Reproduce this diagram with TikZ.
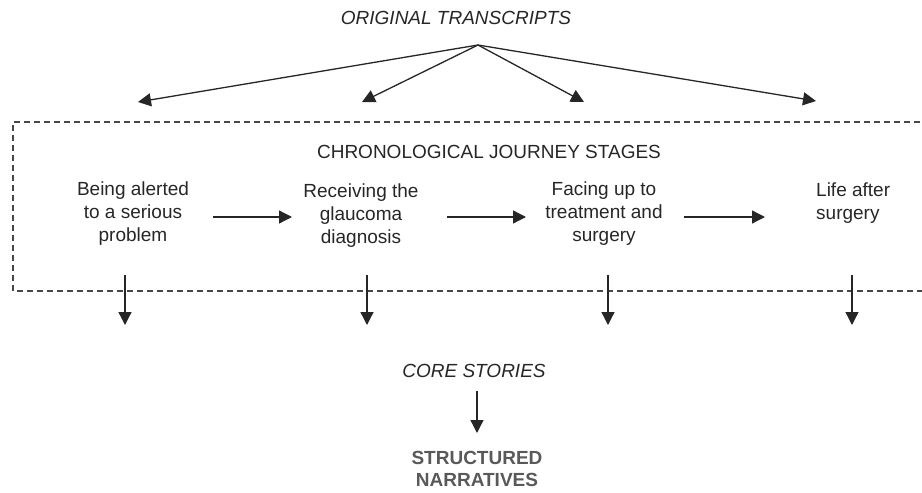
\documentclass[tikz,border=0pt]{standalone}
\usepackage{fontspec}
\setmainfont{Liberation Sans}
\usetikzlibrary{arrows.meta}
\begin{document}
\begin{tikzpicture}[x=1pt,y=-1pt,
  txt/.style={font=\fontsize{19}{23}\selectfont, text=black!85, inner sep=0pt},
  arr/.style={-{Triangle[length=13pt,width=13pt]}, line width=1.3pt, draw=black!85},
  dashbox/.style={draw=black!72, line width=1.1pt, dash pattern=on 6pt off 4pt}]
\useasboundingbox (0,0) rectangle (922,493);
% dashed stage box (open to the right, beyond the page)
\draw[dashbox] (930,122) -- (13,122) -- (13,291) -- (930,291);
% texts
\node[txt, font=\fontsize{19}{23}\selectfont\itshape] (orig) at (456,18) {ORIGINAL TRANSCRIPTS};
\node[txt] (chron) at (489,152) {CHRONOLOGICAL JOURNEY STAGES};
\node[txt, align=center] (s1) at (133,214) {Being alerted\\to a serious\\problem};
\node[txt, align=center] (s2) at (361,216) {Receiving the\\glaucoma\\diagnosis};
\node[txt, align=center] (s3) at (604,214) {Facing up to\\treatment and\\surgery};
\node[txt, align=left, anchor=west] (s4) at (816,203) {Life after\\surgery};
\node[txt, font=\fontsize{19}{23}\selectfont\itshape] (core) at (474,371) {CORE STORIES};
\node[txt, align=center, font=\fontsize{19}{22}\selectfont\bfseries, text=black!65] (struct) at (477,469) {STRUCTURED\\NARRATIVES};
% coordinates
\coordinate (apex) at (478,45);
\coordinate (t1) at (138,102);
\coordinate (t2) at (362,102);
\coordinate (t3) at (584,102);
\coordinate (t4) at (816,101);
\coordinate (h1a) at (213,217); \coordinate (h1b) at (292,217);
\coordinate (h2a) at (447,217); \coordinate (h2b) at (526,217);
\coordinate (h3a) at (684,217); \coordinate (h3b) at (765,217);
\coordinate (d1a) at (125,275); \coordinate (d1b) at (125,325);
\coordinate (d2a) at (367,275); \coordinate (d2b) at (367,325);
\coordinate (d3a) at (608,275); \coordinate (d3b) at (608,325);
\coordinate (d4a) at (852,275); \coordinate (d4b) at (852,325);
\coordinate (ca) at (477,391); \coordinate (cb) at (477,433);
% arrows
\foreach \t in {t1,t2,t3,t4} \draw[arr] (apex) -- (\t);
\draw[arr] (h1a) -- (h1b);
\draw[arr] (h2a) -- (h2b);
\draw[arr] (h3a) -- (h3b);
\foreach \i in {1,2,3,4} \draw[arr] (d\i a) -- (d\i b);
\draw[arr] (ca) -- (cb);
\end{tikzpicture}
\end{document}
